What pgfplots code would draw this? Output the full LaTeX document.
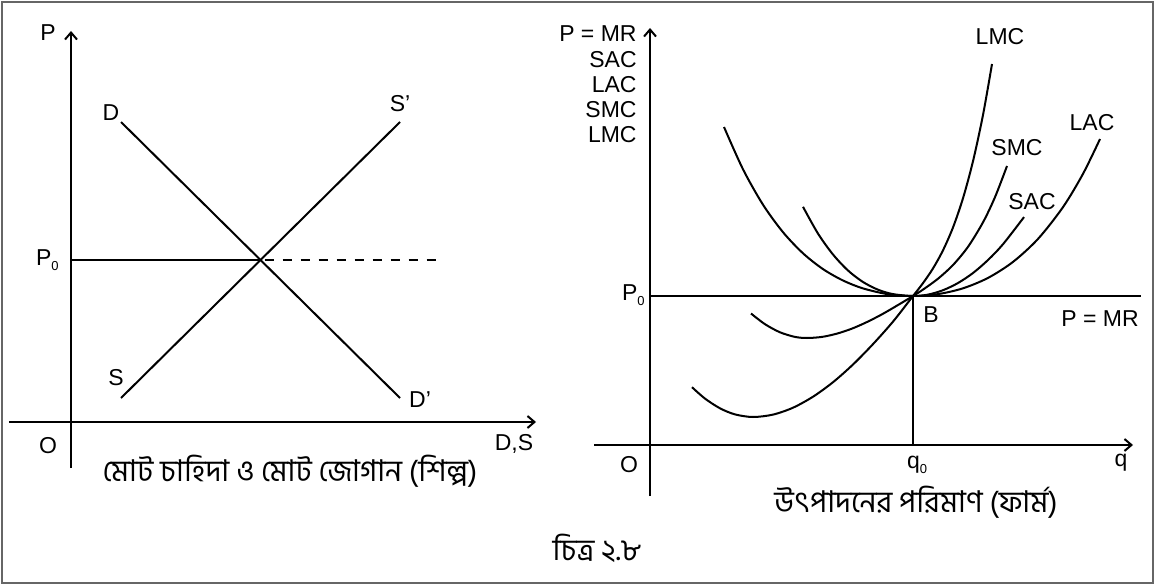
\documentclass[border=0pt]{standalone}
\usepackage{fontspec}
\setmainfont{Liberation Sans}
\newfontfamily\bn[Script=Bengali]{Hind Siliguri}
\usepackage{pgfplots}
\pgfplotsset{compat=1.18}
\usetikzlibrary{arrows.meta}
\newcommand{\sub}[1]{\raisebox{-2.5pt}{\fontsize{6.5}{6.5}\selectfont #1}}
\begin{document}
\begin{tikzpicture}[
  lab/.style={font=\fontsize{11.5}{13}\selectfont, inner sep=0pt},
  bnl/.style={font=\bn\fontsize{15}{17}\selectfont, inner sep=0pt}]
\useasboundingbox (0pt,0pt) rectangle (577.5pt,292.5pt);
\draw[line width=1pt, black!60] (1pt,1pt) rectangle (576.5pt,291.5pt);
\pgfplotsset{myax/.style={scale only axis, axis lines=middle,
  axis line style={line width=1pt, black, -{Straight Barb[length=3.5pt,width=6pt]}},
  xtick=\empty, ytick=\empty, clip=false, anchor=south west,
  cycle list={{black, no marks}},
  every axis plot post/.append style={line width=1pt}}}

% ---------- left panel: industry ----------
\begin{axis}[myax, at={(4.5pt,58.5pt)}, width=263.5pt, height=218.5pt,
  xmin=-62, xmax=465, ymin=-46, ymax=391]
\addplot coordinates {(50,300) (329,24)};   % D
\addplot coordinates {(50,24) (329,300)};   % S
\addplot coordinates {(0,162) (189.5,162)};
\addplot[dash pattern=on 4.5pt off 4.5pt, dash phase=-2pt] coordinates {(189.5,162) (368,162)};
\node[lab] at (axis cs:-23,389) {P};
\node[lab] at (axis cs:40,309) {D};
\node[lab] at (axis cs:329,318) {S’};
\node[lab, anchor=east] at (axis cs:-12,162) {P\sub{0}};
\node[lab] at (axis cs:45,44) {S};
\node[lab] at (axis cs:349,22) {D’};
\node[lab] at (axis cs:-23,-24) {O};
\node[lab] at (axis cs:443,-22) {D,S};
\node[bnl] at (axis cs:219,-49) {মোট চাহিদা ও মোট জোগান (শিল্প)};
\end{axis}

% ---------- right panel: firm ----------
\begin{axis}[myax, at={(297pt,44.5pt)}, width=269.5pt, height=234pt,
  xmin=-56, xmax=483, ymin=-51, ymax=417]
\addplot coordinates {(0,149) (491,149)};
\addplot coordinates {(263,0) (263,149)};
% LMC
\addplot[smooth] coordinates {(42,57.8) (55,46.4) (70,36.7) (85,30.6) (103,28) (123,30.4) (143,37.3) (163,48.3) (183,62.8) (203,80.5) (223,100.9) (243,123.4) (263,149) (273,161.9) (283,176.6) (293,194.7) (303,217.6) (313,246.8) (323,283.8) (333,330.1) (342,381)};
% SMC
\addplot[smooth] coordinates {(101,131.5) (115,120.8) (130,112.7) (145,108.1) (157,107) (172,108.1) (187,111.4) (202,116.4) (217,123) (232,130.7) (247,139.4) (263,149) (273,155.4) (288,166.3) (303,180) (318,198.2) (333,222.7) (345,247.9) (357,279)};
% SAC
\addplot[smooth] coordinates {(153,238.2) (168,211.4) (183,190.5) (198,174.5) (213,163) (228,155.3) (243,150.9) (263,149) (278,150.4) (293,154.8) (308,162) (323,172) (338,185) (353,200.8) (374,227.9)};
% LAC
\addplot[smooth] coordinates {(74,318) (93,275.7) (113,240.3) (133,212.8) (153,191.7) (173,175.9) (193,164.5) (213,156.6) (238,150.8) (263,149) (288,150.9) (313,156.7) (338,167.1) (363,183.1) (388,206.1) (413,237.9) (433,271.2) (450,306)};
\node[lab, anchor=east] at (axis cs:-13,411) {P = MR};
\node[lab, anchor=east] at (axis cs:-13,385) {SAC};
\node[lab, anchor=east] at (axis cs:-13,360) {LAC};
\node[lab, anchor=east] at (axis cs:-13,335) {SMC};
\node[lab, anchor=east] at (axis cs:-13,310) {LMC};
\node[lab, anchor=east] at (axis cs:-5,150) {P\sub{0}};
\node[lab] at (axis cs:281,130) {B};
\node[lab] at (axis cs:450,126) {P = MR};
\node[lab] at (axis cs:350,408) {LMC};
\node[lab] at (axis cs:367,297) {SMC};
\node[lab] at (axis cs:382,243) {SAC};
\node[lab] at (axis cs:442,322) {LAC};
\node[lab] at (axis cs:-21,-20) {O};
\node[lab] at (axis cs:267,-20) {q\sub{0}};
\node[lab] at (axis cs:471,-18) {q};
\node[bnl] at (axis cs:266,-57) {উৎপাদনের পরিমাণ (ফার্ম)};
\end{axis}
\node[bnl] at (298.5pt,18.5pt) {চিত্র ২.৮};
\end{tikzpicture}
\end{document}
